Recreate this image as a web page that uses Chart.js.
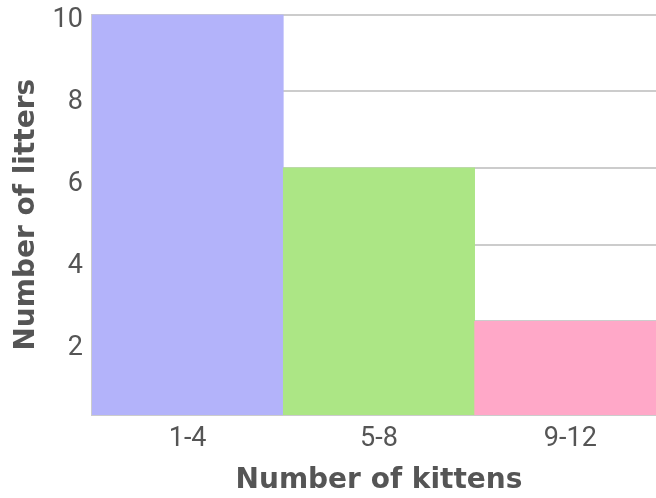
<!DOCTYPE html>
<html>
<head>
<meta charset="utf-8">
<script src="https://cdn.jsdelivr.net/npm/chart.js@4/dist/chart.umd.min.js"></script>
<style>
  html, body { margin: 0; padding: 0; background: #fff; overflow: hidden; }
  #wrap { width: 666px; height: 498px; overflow: hidden; position: relative; }
  #c { position: absolute; left: 0; top: -8px; }
</style>
</head>
<body>
<div id="wrap"><canvas id="c" width="666" height="506"></canvas></div>
<script>
// Litter sizes: how many litters had each range of kittens
const categories = ['1-4', '5-8', '9-12'];
const litters = [10, 6, 2];
const barColors = ['#b3b3fa', '#ace685', '#ffa8c8'];
const yTicks = [2, 4, 6, 8, 10];

// Gridline scale and the (slightly offset) label scale
const gridRange = { min: -0.44, max: 10 };
const labelRange = { min: 0.36, max: 10.15 };

const tickFont = { family: 'Roboto', size: 27, lineHeight: 1 };
const titleFont = { family: 'DejaVu Sans', size: 28, weight: 'bold' };
const textColor = '#555555';
const lineColor = '#cccccc';

new Chart(document.getElementById('c'), {
  type: 'bar',
  data: {
    labels: categories,
    datasets: [{
      data: litters,
      base: gridRange.min,
      backgroundColor: barColors,
      borderWidth: 0,
      barPercentage: 1,
      categoryPercentage: 1,
      yAxisID: 'y'
    }]
  },
  options: {
    responsive: false,
    animation: false,
    layout: { padding: { top: 0, right: 0, left: 10, bottom: 0 } },
    plugins: { legend: { display: false }, tooltip: { enabled: false } },
    scales: {
      x: {
        grid: { display: false, drawTicks: false },
        border: { display: true, color: lineColor, width: 2 },
        ticks: { color: textColor, font: { family: 'Roboto', size: 27 }, padding: 8 },
        title: { display: true, text: 'Number of kittens', color: textColor, font: titleFont, padding: { top: 1, bottom: 0 } }
      },
      y: {
        position: 'left',
        weight: 0,
        min: gridRange.min,
        max: gridRange.max,
        afterBuildTicks: axis => { axis.ticks = yTicks.map(v => ({ value: v })); },
        grid: { color: lineColor, lineWidth: 2, drawTicks: false },
        border: { display: true, color: lineColor, width: 2 },
        ticks: { display: false, padding: 0 }
      },
      yLabels: {
        position: 'left',
        weight: 1,
        min: labelRange.min,
        max: labelRange.max,
        afterBuildTicks: axis => { axis.ticks = yTicks.map(v => ({ value: v })); },
        grid: { display: false, drawTicks: false },
        border: { display: false },
        ticks: { color: textColor, font: tickFont, padding: 9 },
        title: { display: true, text: 'Number of litters', color: textColor, font: titleFont, padding: { top: 0, bottom: 0 } }
      }
    }
  }
});
</script>
</body>
</html>
